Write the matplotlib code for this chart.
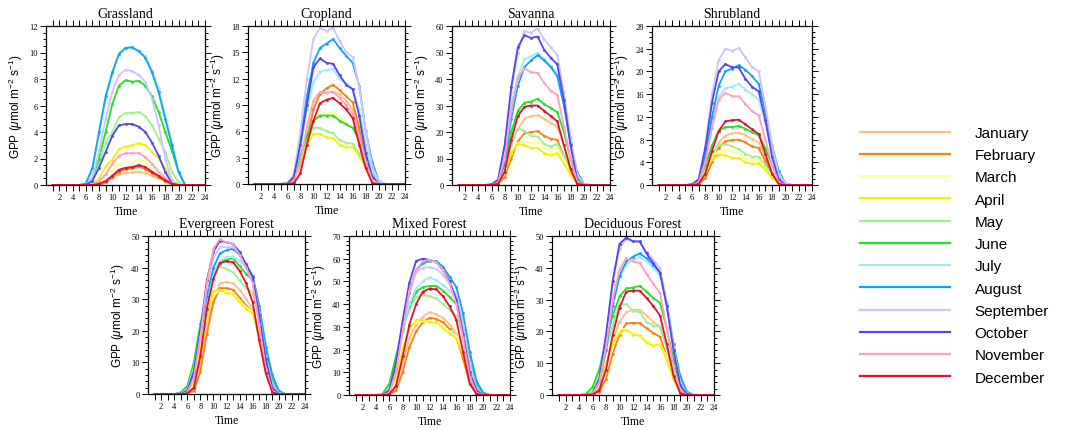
import matplotlib.pyplot as plt
from matplotlib.lines import Line2D
from matplotlib.ticker import MultipleLocator, AutoMinorLocator
import numpy as np

# --- data: hourly GPP (hours 1..24), one row per month Jan..Dec ---
hours = np.arange(1, 25)
months = ['January', 'February', 'March', 'April', 'May', 'June', 'July',
          'August', 'September', 'October', 'November', 'December']
month_colors = ['#FFBF80', '#FA8010', '#FFFF99', '#F2F200', '#A2F08C', '#22E022',
                '#A0E8FF', '#12A2F0', '#CCC4FF', '#5244F0', '#FFA0BE', '#E01030']

grassland = [
    [0,0,0,0,0,0,0,0,0.2,0.5,0.8,0.9,0.95,1.0,0.9,0.7,0.5,0.25,0.05,0,0,0,0,0],
    [0,0,0,0,0,0,0,0,0.2,0.6,1.0,1.2,1.25,1.4,1.2,0.9,0.6,0.3,0.05,0,0,0,0,0],
    [0,0,0,0,0,0,0,0.3,0.8,1.2,1.6,1.7,1.75,1.9,1.8,1.4,1.0,0.6,0.2,0,0,0,0,0],
    [0,0,0,0,0,0,0.1,0.5,1.4,1.9,2.7,2.9,3.0,3.15,3.0,2.5,2.0,1.3,0.4,0,0,0,0,0],
    [0,0,0,0,0,0,0.3,1.5,3.2,4.0,5.1,5.45,5.45,5.5,5.2,4.5,3.5,2.5,1.0,0.2,0,0,0,0],
    [0,0,0,0,0,0.1,0.5,2.0,4.0,6.1,7.5,7.9,7.8,7.85,7.5,6.7,5.5,4.0,2.6,1.0,0,0,0,0],
    [0,0,0,0,0,0.1,1.0,3.8,6.5,8.3,9.8,10.3,10.35,10.1,9.7,8.7,7.3,5.3,3.2,1.0,0,0,0,0],
    [0,0,0,0,0,0.1,1.3,4.0,6.7,8.5,9.9,10.35,10.4,10.1,9.6,8.5,7.0,5.0,3.0,1.0,0,0,0,0],
    [0,0,0,0,0,0,0.5,2.5,5.0,7.0,8.3,8.7,8.6,8.3,7.8,6.5,4.5,2.0,0.3,0,0,0,0,0],
    [0,0,0,0,0,0,0.3,1.3,2.5,3.7,4.5,4.6,4.6,4.4,4.0,3.2,2.2,1.0,0.1,0,0,0,0,0],
    [0,0,0,0,0,0,0,0.3,0.8,1.6,2.2,2.4,2.4,2.4,2.1,1.6,1.0,0.5,0.1,0,0,0,0,0],
    [0,0,0,0,0,0,0,0.1,0.3,0.7,1.15,1.3,1.35,1.5,1.35,1.0,0.7,0.35,0.1,0,0,0,0,0],
]

cropland = [
    [0,0,0,0,0,0,0.2,2.0,5.5,8.5,10.2,10.5,10.5,10.2,9.5,8.5,5.8,2.5,0.4,0,0,0,0,0],
    [0,0,0,0,0,0,0.2,1.5,5.0,8.5,10.3,10.9,11.3,10.7,10.0,9.3,6.5,3.0,0.5,0,0,0,0,0],
    [0,0,0,0,0,0,0.3,1.5,4.0,7.0,8.0,8.1,8.2,7.5,7.0,6.5,4.5,2.2,0.5,0,0,0,0,0],
    [0,0,0,0,0,0,0.5,2.5,4.5,5.7,5.7,5.3,5.2,4.5,4.2,4.2,3.2,1.8,0.4,0,0,0,0,0],
    [0,0,0,0,0,0,0.8,3.0,5.0,6.4,6.4,6.0,5.8,5.0,4.7,4.6,3.5,2.0,0.6,0,0,0,0,0],
    [0,0,0,0,0,0.1,0.8,3.2,5.5,7.2,7.8,7.8,7.8,7.2,6.8,6.4,5.0,2.8,1.0,0.1,0,0,0,0],
    [0,0,0,0,0,0.1,0.8,4.0,8.5,11.6,12.8,13.0,13.1,12.0,11.5,10.8,8.5,4.5,1.5,0.2,0,0,0,0],
    [0,0,0,0,0,0.1,1.0,5.0,10.0,13.8,15.5,16.0,16.5,15.5,14.6,13.8,11.2,6.0,2.5,0.3,0,0,0,0],
    [0,0,0,0,0,0.1,1.0,6.0,12.0,16.5,17.8,17.4,17.8,16.3,15.0,14.5,11.0,6.0,2.0,0.3,0,0,0,0],
    [0,0,0,0,0,0,0.8,4.5,9.0,13.3,14.3,13.8,13.7,12.4,11.3,10.8,7.8,3.5,0.8,0,0,0,0,0],
    [0,0,0,0,0,0,0.3,2.5,6.5,9.5,10.5,10.4,10.5,9.8,9.0,8.0,5.5,2.5,0.5,0,0,0,0,0],
    [0,0,0,0,0,0,0.1,1.2,4.5,7.2,9.2,9.6,9.8,9.2,8.5,7.5,4.5,1.8,0.1,0,0,0,0,0],
]

savanna = [
    [0,0,0,0,0,0,0.5,5,15,21,25,26,26.3,25,23.5,22,15,7,1,0,0,0,0,0],
    [0,0,0,0,0,0,0.3,3,10,16.5,19.5,20,20.3,18.5,17.5,17,11,5,0.5,0,0,0,0,0],
    [0,0,0,0,0,0,0.5,5,12,16,16.5,16,16,14,13,14,10,5,1,0,0,0,0,0],
    [0,0,0,0,0,0,0.5,5,12,15.5,15,14,14,12,11.3,12,8,4,0.8,0,0,0,0,0],
    [0,0,0,0,0,0.2,1,8,16,21.5,20.5,18.5,18.3,15.5,14.5,15.5,11,6,1.5,0,0,0,0,0],
    [0,0,0,0,0,0.3,1.5,8,20,28,31,31.5,32.5,30.5,29,27.5,20,10,3,0.3,0,0,0,0],
    [0,0,0,0,0,0.2,1,10,30,41,47.5,48.5,50,47.5,45,42,30,16,4,0.5,0,0,0,0],
    [0,0,0,0,0,0.2,1,8,25,37.5,44.5,47,49,47,44.5,41,30,16,5,0.5,0,0,0,0],
    [0,0,0,0,0,0.2,2,15,35,50,58,57.5,59,55,52,49,35,18,4,0.5,0,0,0,0],
    [0,0,0,0,0,0.2,2,15,37,52,56.5,55.5,56,51,48,45.5,32,15,2,0,0,0,0,0],
    [0,0,0,0,0,0,1,10,28,40.5,44,42.5,42.3,38.5,35.5,34,22,10,1.5,0,0,0,0,0],
    [0,0,0,0,0,0,0.5,5,17,26,29.5,30,30,28,26,24,15,6,0.5,0,0,0,0,0],
]

shrubland = [
    [0,0,0,0,0,0,0.2,2,5,7.5,8.7,9.1,9.2,8.8,8.1,7.5,5,2.2,0.3,0,0,0,0,0],
    [0,0,0,0,0,0,0.1,1.2,4,6.5,7.7,7.9,8,7.5,6.8,6.5,4.2,1.8,0.2,0,0,0,0,0],
    [0,0,0,0,0,0,0.5,2.5,5,6,6.2,6,5.6,4.8,4.3,4.3,3,1.5,0.4,0,0,0,0,0],
    [0,0,0,0,0,0,0.4,2.2,4.5,5.3,5.2,4.8,4.7,4,3.7,3.8,2.7,1.2,0.3,0,0,0,0,0],
    [0,0,0,0,0,0.1,0.6,3,5.5,7,7.2,6.8,6.3,5.5,5,5,3.5,1.8,0.5,0,0,0,0,0],
    [0,0,0,0,0,0.1,0.8,3.5,7,9.5,10.2,10.2,10.4,9.9,9.3,8.8,6.5,3.5,1,0.1,0,0,0,0],
    [0,0,0,0,0,0.1,0.8,5,11.5,15.5,17,17.3,17.8,16.8,16,15,11,6,2,0.3,0,0,0,0],
    [0,0,0,0,0,0.1,0.8,5,12,17.5,20,20.5,21.1,20.3,19.2,17.8,13,7,2.5,0.3,0,0,0,0],
    [0,0,0,0,0,0.1,1,7,16,22,24,23.6,24.1,22.5,20.8,20,14,7,2,0.3,0,0,0,0],
    [0,0,0,0,0,0.1,1,6.5,14.5,20,21.3,20.7,20.7,18.7,17.3,16.5,11.5,5,1,0,0,0,0,0],
    [0,0,0,0,0,0,0.5,4,10,15,16.2,15.7,15.6,14.3,13,12.3,8,3.5,0.5,0,0,0,0,0],
    [0,0,0,0,0,0,0.2,2,6,9.5,11.2,11.4,11.5,10.7,9.8,9,5.5,2,0.2,0,0,0,0,0],
]

evergreen = [
    [0,0,0,0,0,0.2,2,10,22,30,35,35.5,35,33,30,27,19,10,2,0,0,0,0,0],
    [0,0,0,0,0,0.1,1,7,19,29,33.5,33.5,33,30.5,28,26,18,9,1.5,0,0,0,0,0],
    [0,0,0,0,0,0.5,4,14,25,31,33,32.5,32,29.5,27.5,26,19,10,3,0.3,0,0,0,0],
    [0,0,0,0,0,0.5,4,14,25,32.5,33,32,31.5,29,27,25.5,18.5,9,2.5,0.2,0,0,0,0],
    [0,0,0,0,0.3,2,9,20,31,38,40.5,39.5,38.5,36,33.5,32,24,12,4,0.5,0,0,0,0],
    [0,0,0,0,0.5,2.5,10,22,32,38,42,42.5,43,40.5,38,36,26,14,5,0.5,0,0,0,0],
    [0,0,0,0,0.2,1.5,8,19,30,38,42,43.5,43.5,42,40,37.5,28,16,6,1,0,0,0,0],
    [0,0,0,0,0.1,1,7,18,31,40,44.5,45.5,46,44,41,37.5,28,15,6,1,0,0,0,0],
    [0,0,0,0,0.1,1,6,19,34,43,46.5,46.5,46.5,44.5,41,37,26,12,3,0.3,0,0,0,0],
    [0,0,0,0,0.1,1,7,20,36,45,48.5,48,47.5,45,41,37,25,11,2,0,0,0,0,0],
    [0,0,0,0,0,0.5,5,18,35,46,49,48,47.5,44,40,35,22,8,1,0,0,0,0,0],
    [0,0,0,0,0,0.2,2,12,27,36.5,41.5,42,41.7,39,35,29,17,6.5,0.5,0,0,0,0,0],
]

mixed = [
    [0,0,0,0,0,0.3,4,14,25,31,34.5,36.5,35.5,34,31,27,17,6,1,0,0,0,0,0],
    [0,0,0,0,0,0.1,2,10,21,28,32,34,33.5,32,29,25.5,16,5,0.5,0,0,0,0,0],
    [0,0,0,0,0,1,8,20,29,32,32.5,32.5,31.5,30,28,26,19,9,2,0,0,0,0,0],
    [0,0,0,0,0,1,8,20,29,33,33,32,32,29.5,27,25,18,8,1.5,0,0,0,0,0],
    [0,0,0,0,0.3,4,15,28,38,43,44,43.5,42.5,40,37.5,35,26,14,4,0.5,0,0,0,0],
    [0,0,0,0,0.5,5,17,29,39,45.5,47.5,48,48,46,43,40,30,17,5,0.5,0,0,0,0],
    [0,0,0,0,0.2,2,12,28,40,47,50,51.8,50.5,48.5,46,43,33,19,6,1,0,0,0,0],
    [0,0,0,0,0.1,1.5,12,30,45,55,58,59,59,56.5,52,47.5,36,19,6,1,0,0,0,0],
    [0,0,0,0,0.1,2,13,30,46,54,56,56.3,55.5,53,49,44,31,14,3,0,0,0,0,0],
    [0,0,0,0,0.1,2,14,33,49.5,59,60,59.5,58.5,55,50,42,27,10,2,0,0,0,0,0],
    [0,0,0,0,0,1,10,28,46,55,59,59.5,58.5,55,49,40,25,8,1,0,0,0,0,0],
    [0,0,0,0,0,0.3,4,17,31,40,45.5,46.8,46.5,43.5,39,33,19,5,0.5,0,0,0,0,0],
]

deciduous = [
    [0,0,0,0,0,0.2,2,8,17,23,26,26.8,26.8,25,23,21.5,15,7,1.5,0,0,0,0,0],
    [0,0,0,0,0,0.1,1,5,13,19,22.5,22.7,22.6,21,19.5,18.3,12,5,1,0,0,0,0,0],
    [0,0,0,0,0,0.5,3,10,17,21,20.5,19.5,19,17,16,16,12,6,1.5,0,0,0,0,0],
    [0,0,0,0,0,0.5,3,10,16,19.5,20.5,19,18.7,16.5,15.5,16,11,5,1,0,0,0,0,0],
    [0,0,0,0,0.1,1.5,6,14,22,28.5,28.5,26.5,26,23,21.8,21.5,15,8,2,0,0,0,0,0],
    [0,0,0,0,0.3,2.5,8,17,25,31,33.5,33.8,34.3,32.5,30.5,29,21,11,3,0.3,0,0,0,0],
    [0,0,0,0,0,0.3,4,14,28,37,41,42.5,43.5,42,40,37.5,28,15,5,1,0,0,0,0],
    [0,0,0,0,0,0.3,4,14,28,37.5,42,43.5,44.5,43,41,38.5,29,16,6,1,0,0,0,0],
    [0,0,0,0,0,0.5,5,18,35,46,49,48.5,48,45,42.5,40,29,15,4,0.5,0,0,0,0],
    [0,0,0,0,0,0.5,5,19,36,47.5,49.5,48.3,48.3,44.5,41.5,38.5,28,14,3,0.3,0,0,0,0],
    [0,0,0,0,0,0.3,4,15,30,39.5,43,42,41.5,38,35,32,21,9,1.5,0,0,0,0,0],
    [0,0,0,0,0,0.1,1.5,8,19,27.5,32.5,32.8,32.8,30.5,28,25,16,6,0.5,0,0,0,0,0],
]

titles = ['Grassland', 'Cropland', 'Savanna', 'Shrubland',
          'Evergreen Forest', 'Mixed Forest', 'Deciduous Forest']
panel_data = [grassland, cropland, savanna, shrubland, evergreen, mixed, deciduous]
y_max = [12, 18, 60, 28, 50, 70, 50]
y_step = [2, 3, 10, 4, 10, 10, 10]
x_labels = list(range(2, 25, 2))

# --- layout (pixel boxes: left, top, right, bottom) ---
W, H = 1069, 431
boxes = [(46, 27, 205, 186), (248, 27, 405, 185), (452, 27, 610, 186),
         (652, 27, 812, 186), (148, 237, 305, 395), (349, 237, 510, 396),
         (552, 237, 714, 396)]

plt.rcParams['mathtext.fontset'] = 'custom'
plt.rcParams['mathtext.rm'] = 'Liberation Sans'
plt.rcParams['mathtext.it'] = 'Liberation Sans:italic'

fig = plt.figure(figsize=(W / 100, H / 100), dpi=100)

for box, title, data, ymax, ystep in zip(boxes, titles, panel_data, y_max, y_step):
    l, t, r, b = box
    ax = fig.add_axes([l / W, 1 - b / H, (r - l) / W, (b - t) / H])
    for vals, col in zip(data, month_colors):
        ax.plot(hours, vals, color=col, lw=1.3, marker='.', ms=2)
    ax.set_xlim(0, 24)
    ax.set_ylim(0, ymax)
    ax.set_xticks(x_labels)
    ax.set_xticks(hours[::2], minor=True)
    ax.yaxis.set_major_locator(MultipleLocator(ystep))
    ax.yaxis.set_minor_locator(AutoMinorLocator())
    ax.tick_params(which='both', direction='out', top=True, right=True,
                   labelsize=6, width=0.7, pad=2)
    ax.tick_params(which='major', length=4)
    ax.tick_params(axis='y', which='minor', length=2)
    ax.tick_params(axis='x', which='minor', length=4)
    for lab in ax.get_xticklabels() + ax.get_yticklabels():
        lab.set_fontfamily('Liberation Serif')
    for sp in ax.spines.values():
        sp.set_linewidth(0.9)
    ax.set_title(title, fontfamily='Liberation Serif', fontsize=10, pad=6.5)
    ax.set_xlabel('Time', fontfamily='Liberation Serif', fontsize=8.5, labelpad=3)
    ax.set_ylabel(r'GPP ($\mu$mol m$^{-2}$ s$^{-1}$)', fontfamily='Liberation Sans',
                  fontsize=8.5, labelpad=3)

handles = [Line2D([], [], color=c, lw=1.6) for c in month_colors]
fig.legend(handles, months, loc='upper left', bbox_to_anchor=(860 / W, 1 - 127 / H),
           frameon=False, prop={'family': 'Liberation Sans', 'size': 11},
           handlelength=5.9, handletextpad=1.6, labelspacing=0.54,
           borderpad=0, borderaxespad=0)

fig.savefig('out.png', dpi=100)
